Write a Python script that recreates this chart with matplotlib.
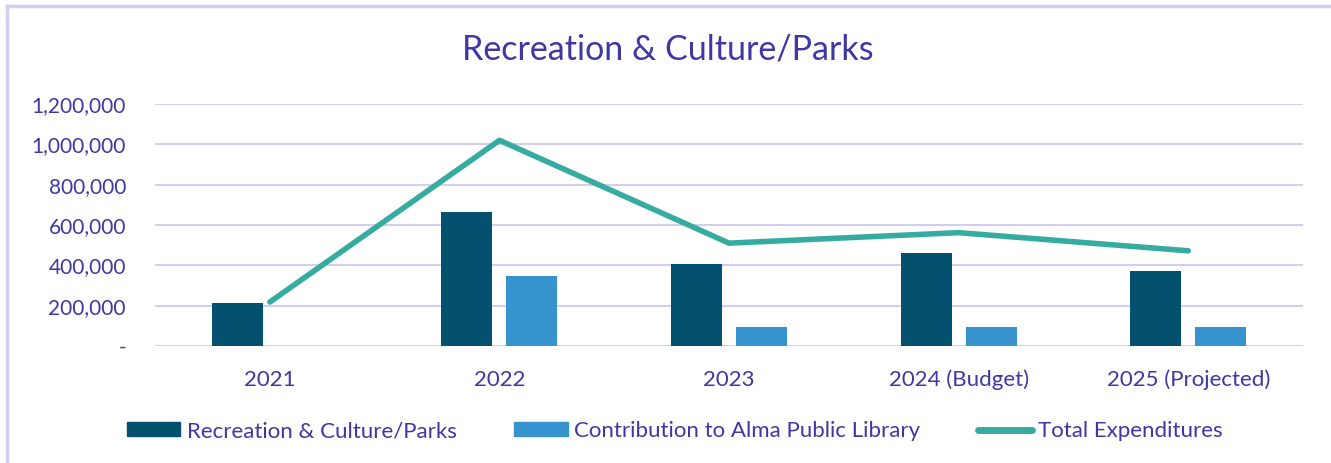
import numpy as np
import matplotlib.pyplot as plt
from matplotlib.lines import Line2D
from matplotlib.ticker import FuncFormatter

categories = ["2021", "2022", "2023", "2024 (Budget)", "2025 (Projected)"]
recreation = [215000, 665000, 407000, 461000, 373000]
library = [0, 348000, 95000, 96000, 96000]
total = [218000, 1020000, 510000, 562000, 472000]

text_color = "#3F37A3"
dark_blue = "#03506F"
light_blue = "#3793CE"
teal = "#36ACA0"
grid_color = "#D3CEF0"

plt.rcParams['font.family'] = ['Lato', 'DejaVu Sans']

fig = plt.figure(figsize=(13.31, 4.63), dpi=100)
ax = fig.add_axes([0.1165, 0.2527, 0.8625, 0.5227])

x = np.arange(len(categories))
width = 0.222
offset = 0.1415
ax.bar(x - offset, recreation, width, color=dark_blue, label="Recreation & Culture/Parks", zorder=2)
ax.bar(x + offset, library, width, color=light_blue, label="Contribution to Alma Public Library", zorder=2)
ax.plot(x, total, color=teal, linewidth=4, solid_capstyle='round', label="Total Expenditures", zorder=3)

ax.set_xlim(-0.5, len(categories) - 0.5)
ax.set_ylim(0, 1200000)
ax.set_yticks(np.arange(0, 1200001, 200000))
ax.yaxis.set_major_formatter(FuncFormatter(lambda v, p: "-" if v == 0 else f"{int(v):,}"))
ax.set_xticks(x)
ax.set_xticklabels(categories)
ax.grid(axis='y', color=grid_color, linewidth=1.5, zorder=0)
for s in ax.spines.values():
    s.set_visible(False)
ax.tick_params(axis='both', length=0, colors=text_color)
ax.tick_params(axis='x', labelsize=16, pad=17)
ax.tick_params(axis='y', labelsize=15, pad=21)

fig.text(0.502, 0.893, "Recreation & Culture/Parks", ha='center', va='center',
         fontsize=24.5, color=text_color)

handles = [
    plt.Rectangle((0, 0), 1, 1, color=dark_blue),
    plt.Rectangle((0, 0), 1, 1, color=light_blue),
    Line2D([0], [0], color=teal, linewidth=5, solid_capstyle='round'),
]
labels = ["Recreation & Culture/Parks", "Contribution to Alma Public Library", "Total Expenditures"]
leg = fig.legend(handles, labels, loc='center', bbox_to_anchor=(0.507, 0.069), ncol=3,
                 frameon=False, fontsize=16, handlelength=2.4, handleheight=0.6,
                 columnspacing=2.6, handletextpad=0.3)
for t in leg.get_texts():
    t.set_color(text_color)

# chart border
fig.add_artist(Line2D([7 / 1331, 1], [1 - 6 / 463, 1 - 6 / 463], color=grid_color, linewidth=2.5))
fig.add_artist(Line2D([7 / 1331, 7 / 1331], [0, 1 - 6 / 463], color=grid_color, linewidth=2.5))

fig.savefig("out.png", dpi=100)
